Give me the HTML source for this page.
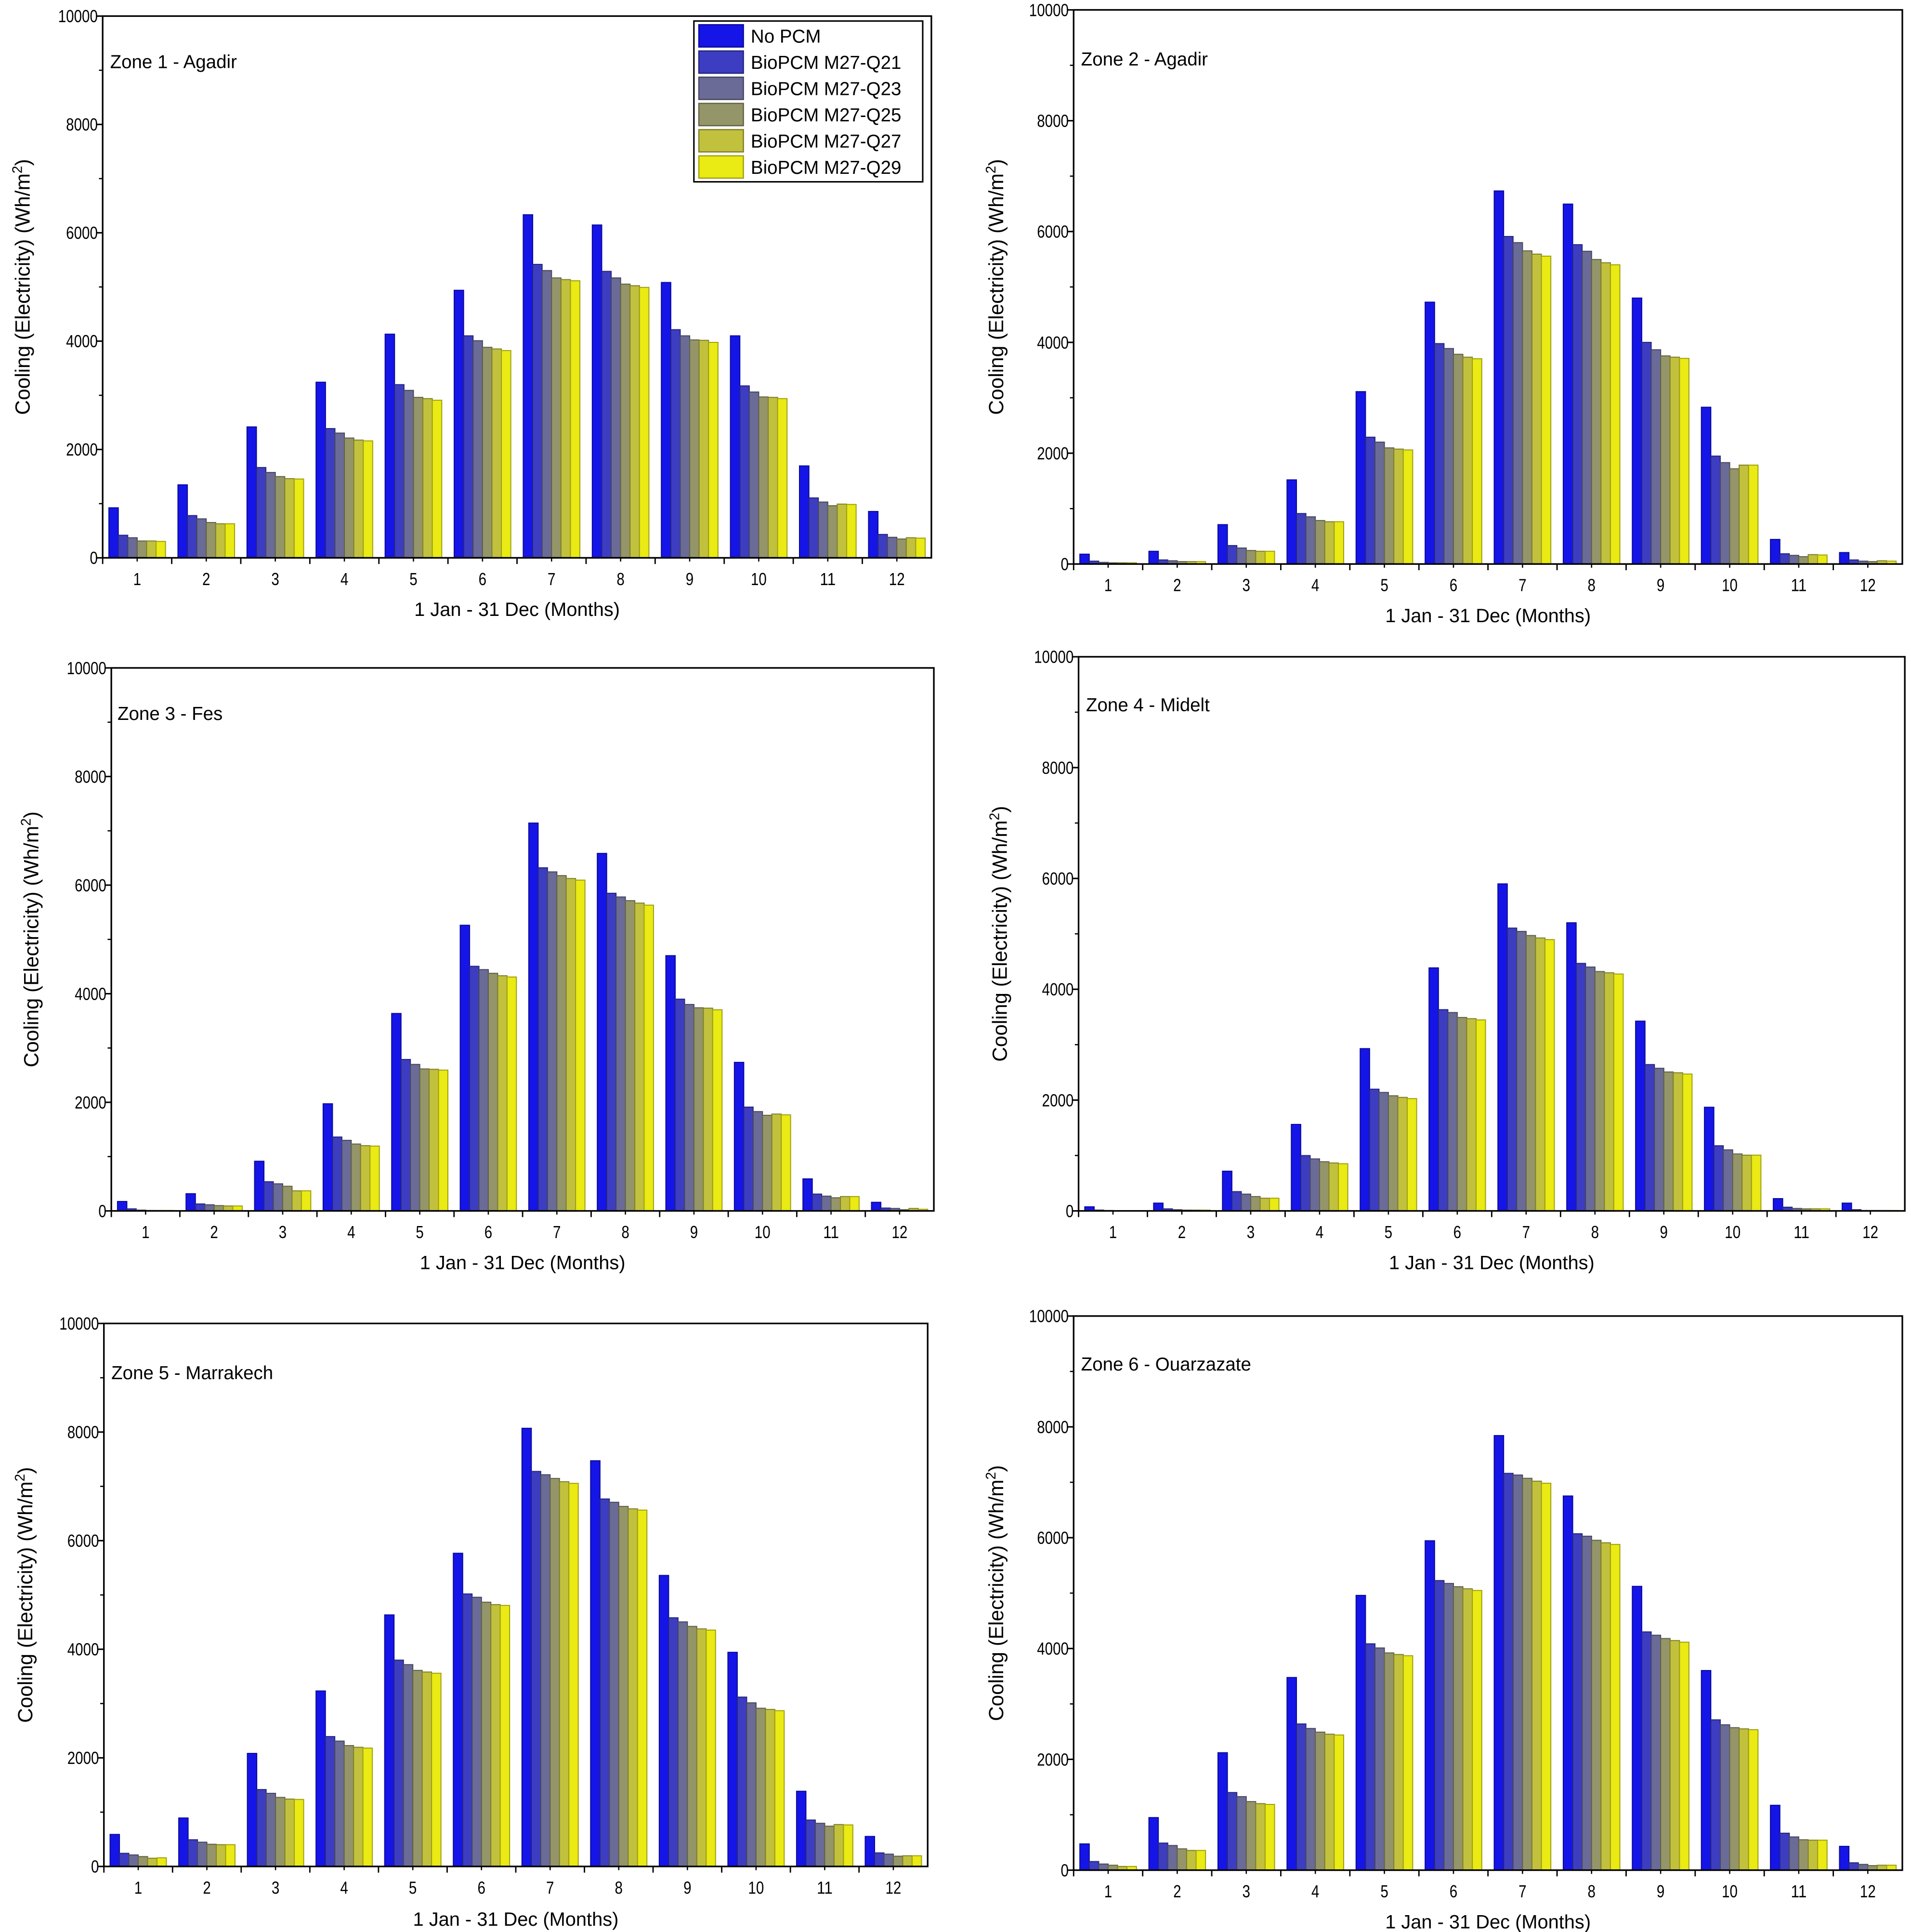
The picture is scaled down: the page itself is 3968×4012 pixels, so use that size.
<!DOCTYPE html>
<html><head><meta charset="utf-8"><style>
html,body{margin:0;padding:0;background:#fff;}
svg{display:block;}
text{font-family:"Liberation Sans",sans-serif;fill:#000;}
</style></head>
<body>
<svg id="chart" width="3968" height="4012" viewBox="0 0 1545 1562" preserveAspectRatio="none" xmlns="http://www.w3.org/2000/svg"></svg>
<script>
const months = ["1","2","3","4","5","6","7","8","9","10","11","12"];
const seriesNames = ["No PCM","BioPCM M27-Q21","BioPCM M27-Q23","BioPCM M27-Q25","BioPCM M27-Q27","BioPCM M27-Q29"];
const yTicks = [0,2000,4000,6000,8000,10000];
const zoneTitles = ["Zone 1 - Agadir","Zone 2 - Agadir","Zone 3 - Fes","Zone 4 - Midelt","Zone 5 - Marrakech","Zone 6 - Ouarzazate"];
const zone1 = [
 [924,1348,2417,3242,4129,4939,6333,6144,5083,4098,1697,856],
 [417,780,1667,2386,3197,4098,5417,5288,4212,3174,1106,432],
 [371,720,1576,2303,3091,4008,5303,5167,4098,3061,1030,379],
 [311,652,1500,2212,2962,3886,5167,5053,4023,2970,962,348],
 [311,629,1462,2174,2939,3856,5136,5023,4015,2962,992,371],
 [303,629,1455,2159,2909,3826,5114,4992,3977,2939,985,364]];
const zone2 = [
 [178,230,711,1519,3111,4726,6733,6496,4800,2830,444,207],
 [52,74,333,911,2289,3978,5911,5763,4000,1948,185,74],
 [30,59,289,852,2200,3889,5800,5644,3867,1830,156,52],
 [22,44,244,785,2096,3785,5652,5496,3756,1719,133,44],
 [22,44,230,763,2074,3733,5593,5437,3733,1785,170,59],
 [22,44,230,763,2059,3704,5556,5400,3711,1785,163,52]];
const zone3 = [
 [174,317,915,1973,3636,5261,7143,6584,4701,2736,590,159],
 [38,128,537,1361,2789,4505,6319,5850,3900,1912,310,53],
 [15,113,499,1300,2698,4444,6244,5782,3802,1829,272,45],
 [8,98,454,1232,2615,4376,6175,5714,3741,1761,242,23],
 [8,91,370,1202,2608,4331,6122,5669,3734,1784,264,45],
 [8,91,370,1194,2593,4308,6092,5631,3704,1769,264,30]];
const zone4 = [
 [74,141,717,1561,2929,4386,5902,5200,3425,1871,222,141],
 [15,37,348,999,2197,3632,5104,4467,2641,1176,67,22],
 [7,22,303,939,2138,3580,5044,4401,2574,1102,44,7],
 [3,15,259,888,2078,3491,4970,4320,2507,1028,37,7],
 [2,15,229,865,2049,3469,4926,4297,2493,1006,37,7],
 [2,15,229,851,2027,3447,4896,4275,2470,1006,37,7]];
const zone5 = [
 [590,893,2082,3232,4633,5768,8070,7472,5360,3944,1385,553],
 [242,492,1416,2392,3800,5019,7275,6768,4580,3119,855,250],
 [212,447,1347,2309,3717,4958,7214,6707,4504,3013,795,227],
 [182,409,1272,2226,3611,4867,7146,6631,4421,2914,742,189],
 [151,401,1241,2195,3581,4822,7086,6586,4376,2892,772,197],
 [159,401,1234,2180,3558,4807,7055,6563,4353,2869,765,197]];
const zone6 = [
 [474,949,2120,3477,4959,5945,7843,6753,5122,3603,1171,430],
 [156,489,1401,2639,4085,5226,7161,6071,4300,2713,667,133],
 [111,445,1327,2557,4010,5174,7131,6027,4240,2624,600,104],
 [89,385,1238,2491,3921,5115,7072,5953,4181,2572,549,82],
 [67,356,1201,2454,3892,5078,7020,5908,4144,2550,541,89],
 [67,356,1186,2439,3870,5048,6983,5878,4114,2535,541,89]];
const zones = [zone1,zone2,zone3,zone4,zone5,zone6];

const fills = ["#1515e8","#3d3dc2","#6b6b98","#95956a","#c1c13e","#eaea14"];
const strokes = ["#0a0a9a","#25257e","#46465f","#626245","#80802a","#a0a010"];
const layout = [
 {L:83,R:753,T:13,B:451,yl:18,tk:468,tt:493,zx:89,zy:50},
 {L:868,R:1538,T:8,B:456,yl:805,tk:473,tt:498,zx:874,zy:48},
 {L:90,R:755,T:540,B:979,yl:25,tk:996,tt:1021,zx:95,zy:577},
 {L:872,R:1540,T:531,B:979,yl:808,tk:996,tt:1021,zx:878,zy:570},
 {L:84,R:750,T:1070,B:1509,yl:20,tk:1526,tt:1552,zx:90,zy:1110},
 {L:868,R:1538,T:1064,B:1512,yl:805,tk:1529,tt:1554,zx:874,zy:1103}];

const NS="http://www.w3.org/2000/svg";
const svg=document.getElementById('chart');
function mk(tag,attrs,parent){const e=document.createElementNS(NS,tag);for(const k in attrs)e.setAttribute(k,attrs[k]);(parent||svg).appendChild(e);return e;}

zones.forEach((data,zi)=>{
  const p=layout[zi];
  const g=mk('g',{});
  
  
  const yScale=v=>p.B-(v/10000)*(p.B-p.T);
  const band=(p.R-p.L)/months.length;
  const xCenter=i=>p.L+(i+0.5)*band;
  const groupW=band*0.82, bw=groupW/seriesNames.length;
  data.forEach((vals,si)=>{
    vals.forEach((v,mi)=>{
      const x=xCenter(mi)-groupW/2+si*bw;
      const y=yScale(v);
      const r=mk('rect',{x:x,y:y,width:bw,height:p.B-y,fill:fills[si],stroke:strokes[si],'stroke-width':0.8},g);
      
      
    });
  });
  const fr=mk('rect',{x:p.L,y:p.T,width:p.R-p.L,height:p.B-p.T,fill:'none',stroke:'#000','stroke-width':1.3},g);
  
  
  yTicks.forEach(t=>{
    const y=yScale(t);
    mk('line',{x1:p.L-5,x2:p.L,y1:y,y2:y,stroke:'#000','stroke-width':1.2},g);
    const tx=mk('text',{x:p.L-4,y:y+5,'font-size':14,'text-anchor':'end','textLength':(String(t).length*6.4),'lengthAdjust':'spacingAndGlyphs'},g);
    tx.textContent=t;
    
    
    if(t<10000){const ym=yScale(t+1000);mk('line',{x1:p.L-3,x2:p.L,y1:ym,y2:ym,stroke:'#000','stroke-width':1},g);}
  });
  months.forEach((m,mi)=>{
    const xb=p.L+mi*band;
    mk('line',{x1:xb,x2:xb,y1:p.B,y2:p.B+5,stroke:'#000','stroke-width':1.1},g);
    mk('line',{x1:xCenter(mi),x2:xCenter(mi),y1:p.B,y2:p.B+3,stroke:'#000','stroke-width':1},g);
    const tx=mk('text',{x:xCenter(mi),y:p.tk+5,'font-size':14,'text-anchor':'middle','textLength':(m.length*6.4),'lengthAdjust':'spacingAndGlyphs'},g);
    tx.textContent=m;
    
    
  });
  const xt=mk('text',{x:(p.L+p.R)/2,y:p.tt+5,'font-size':15.5,'text-anchor':'middle'},g);
  xt.textContent='1 Jan - 31 Dec (Months)';
  
  
  const yt=mk('text',{x:0,y:0,'font-size':16.5,'text-anchor':'middle',transform:'translate('+(p.yl+6)+','+((p.T+p.B)/2)+') rotate(-90)'},g);
  yt.innerHTML='Cooling (Electricity) (Wh/m<tspan baseline-shift="super" font-size="11">2</tspan>)';
  
  
  const zt=mk('text',{x:p.zx,y:p.zy+5,'font-size':15},g);
  zt.textContent=zoneTitles[zi];
  
  
});

const lg=mk('g',{});


mk('rect',{x:561,y:17,width:185,height:130,fill:'#fff',stroke:'#000','stroke-width':1.2},lg);
seriesNames.forEach((n,si)=>{
  const cy=29+si*21.2;
  const sw=mk('rect',{x:565,y:cy-9,width:36,height:18,fill:fills[si],stroke:strokes[si],'stroke-width':1},lg);
  
  
  const t=mk('text',{x:607,y:cy+5.5,'font-size':15},lg);
  t.textContent=n;
  
  
});
</script>
</body></html>
